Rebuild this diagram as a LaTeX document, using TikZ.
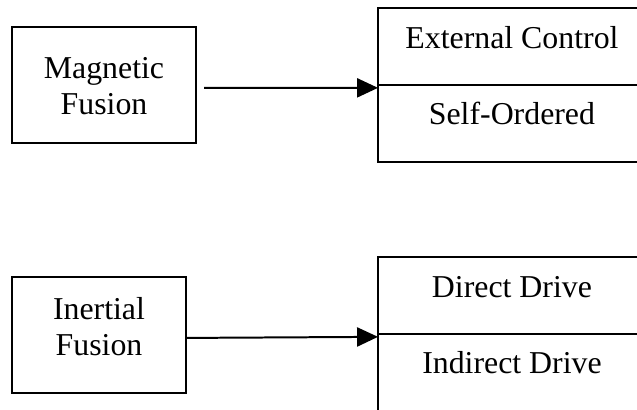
\documentclass[tikz,border=0pt]{standalone}
\usepackage{fontspec}
\setmainfont{Liberation Serif}
\usetikzlibrary{positioning,arrows.meta}

\begin{document}
\begin{tikzpicture}[x=0.377pt,y=-0.377pt,
    every node/.style={font=\fontsize{12}{13.7}\selectfont, line width=0.75pt, outer sep=0pt},
    fusbox/.style={draw, minimum height=43.7pt, inner sep=0pt},
    fustext/.style={align=center, inner sep=0pt},
    cell/.style={draw, minimum width=101pt, inner sep=0pt, text height=15.1pt, text depth=13.9pt},
    arr/.style={-{Triangle[length=7.9pt,width=7.2pt]}, line width=0.75pt}]
  \useasboundingbox (0,0) rectangle (637,409);
  \clip (0,0) rectangle (637,409);
  % left boxes
  \node[fusbox, minimum width=69.4pt] (mag) at (104,85) {};
  \node[fustext, below=11.3pt of mag.north] (magtxt) {Magnetic\\Fusion};
  \node[fusbox, minimum width=65.6pt] (inert) at (99,335) {};
  \node[fustext, below=7.5pt of inert.north] (inerttxt) {Inertial\\Fusion};
  % right boxes
  \node[cell, anchor=north west] (ext) at (378,8) {External Control};
  \node[cell, below=0pt of ext] (self) {Self-Ordered};
  \node[cell, anchor=north west] (direct) at (378,257) {Direct Drive};
  \node[cell, below=0pt of direct] (indirect) {Indirect Drive};
  % arrows
  \draw[arr] ([xshift=3pt,yshift=-1.1pt]mag.east) -- ([yshift=-1.1pt]ext.south west);
  \draw[arr] ([yshift=-1.1pt]inert.east) -- ([yshift=-1.1pt]direct.south west);
\end{tikzpicture}
\end{document}
